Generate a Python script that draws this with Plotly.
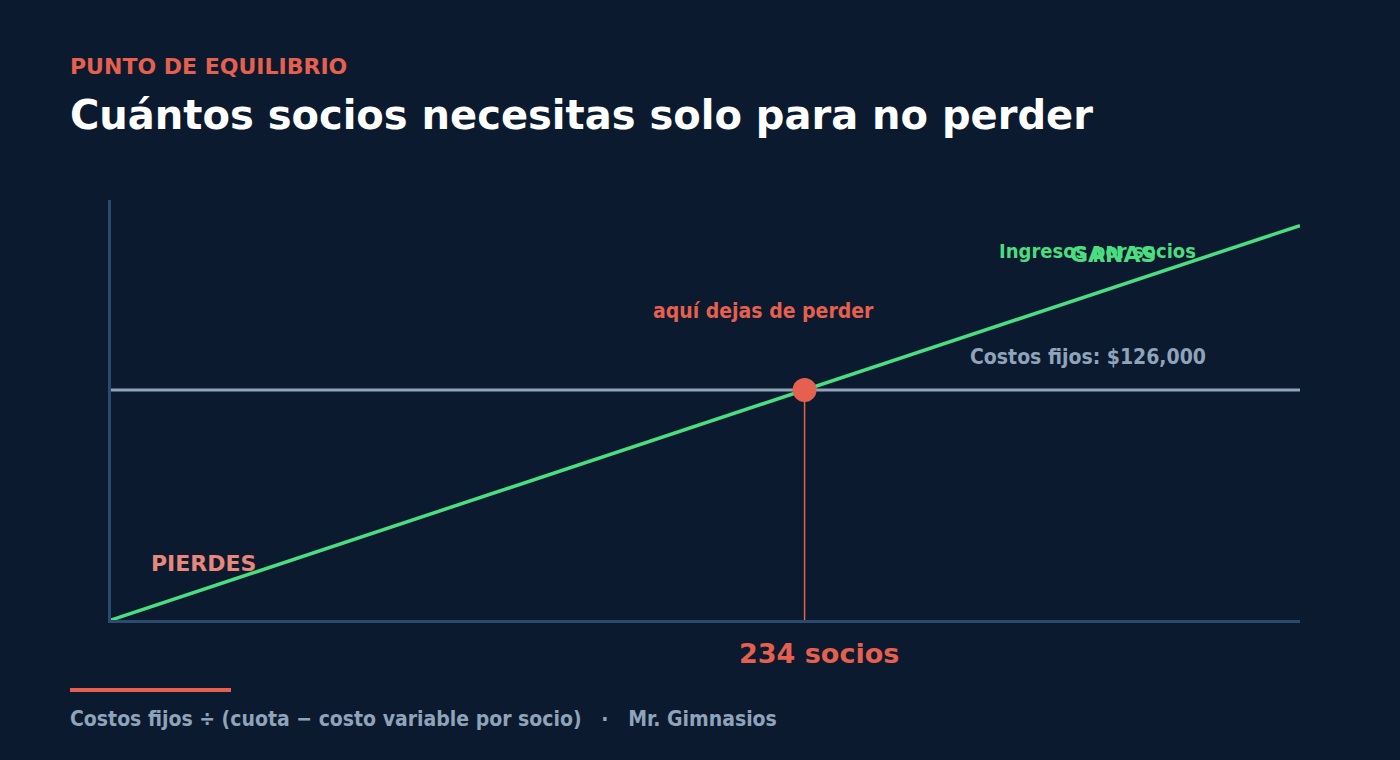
import plotly.graph_objects as go

# --- data ---
socios = [0, 400]
margen_por_socio = 540
ingresos = [s * margen_por_socio for s in socios]
costos_fijos = 126000
punto_equilibrio = costos_fijos / margen_por_socio
etiqueta_punto = "234 socios"

BG = "#0b1a2e"
GREEN = "#4ade80"
RED = "#e5604e"
PINK = "#e8877c"
GRAY = "#8fa3bb"
AXIS = "#2c4a6e"
COND = "DejaVu Sans Condensed"
SANS = "DejaVu Sans"

fig = go.Figure()

fig.add_trace(go.Scatter(x=socios, y=[costos_fijos, costos_fijos], mode="lines",
                         line=dict(color=GRAY, width=3), hoverinfo="skip", showlegend=False))
fig.add_trace(go.Scatter(x=[punto_equilibrio, punto_equilibrio], y=[0, costos_fijos], mode="lines",
                         line=dict(color=RED, width=1.5), hoverinfo="skip", showlegend=False))
fig.add_trace(go.Scatter(x=socios, y=ingresos, mode="lines",
                         line=dict(color=GREEN, width=3.5), hoverinfo="skip", showlegend=False))
fig.add_trace(go.Scatter(x=[punto_equilibrio], y=[costos_fijos], mode="markers",
                         marker=dict(color=RED, size=24), hoverinfo="skip", showlegend=False))

ann = []
ann.append(dict(x=365, y=202000, xshift=2, text="Ingresos por socios", xanchor="right", yanchor="middle",
                font=dict(family=COND, size=20, color=GREEN, weight="bold")))
ann.append(dict(x=337, y=200400, text="GANAS", xanchor="center", yanchor="middle",
                font=dict(family=SANS, size=22, color=GREEN, weight="bold")))
ann.append(dict(x=219.5, y=169200, text="aquí dejas de perder", xanchor="center", yanchor="middle",
                font=dict(family=COND, size=21, color=RED, weight="bold")))
ann.append(dict(x=368.4, y=144000, xshift=2, text="Costos fijos: $126,000", xanchor="right", yanchor="middle",
                font=dict(family=COND, size=21, color=GRAY, weight="bold")))
ann.append(dict(x=13.4, y=30700, xshift=-2, text="PIERDES", xanchor="left", yanchor="middle",
                font=dict(family=SANS, size=22, color=PINK, weight="bold")))
ann.append(dict(x=238.3, y=0, yshift=-33, text=etiqueta_punto, xanchor="center", yanchor="middle",
                font=dict(family=SANS, size=27, color=RED, weight="bold")))
for a in ann:
    a.update(xref="x", yref="y", showarrow=False)

W, H = 1400, 760
L, R, T, B = 111, 100, 200, 140
pw, ph = W - L - R, H - T - B
def px(x):
    return (x - L) / pw
def py(y):
    return (H - B - y) / ph

ann.append(dict(xref="paper", yref="paper", x=px(68), y=py(66), xanchor="left", yanchor="middle",
                text="PUNTO DE EQUILIBRIO", showarrow=False,
                font=dict(family=SANS, size=22, color=RED, weight="bold")))
ann.append(dict(xref="paper", yref="paper", x=px(68), y=py(115), xanchor="left", yanchor="middle",
                text="Cuántos socios necesitas solo para no perder", showarrow=False,
                font=dict(family=SANS, size=40, color="#ffffff", weight="bold")))
ann.append(dict(xref="paper", yref="paper", x=px(68), y=py(719), xanchor="left", yanchor="middle",
                text="Costos fijos ÷ (cuota − costo variable por socio)   ·   Mr. Gimnasios", showarrow=False,
                font=dict(family=COND, size=21, color=GRAY, weight="bold")))

shapes = [dict(type="line", xref="paper", yref="paper", x0=px(70), x1=px(231), y0=py(690), y1=py(690),
               line=dict(color=RED, width=4))]

fig.update_layout(
    width=W, height=H, paper_bgcolor=BG, plot_bgcolor=BG,
    margin=dict(l=L, r=R, t=T, b=B),
    annotations=ann, shapes=shapes, showlegend=False,
    xaxis=dict(range=[0, 400], showgrid=False, zeroline=False, showticklabels=False,
               showline=True, linecolor=AXIS, linewidth=3, ticks=""),
    yaxis=dict(range=[0, 230000], showgrid=False, zeroline=False, showticklabels=False,
               showline=True, linecolor=AXIS, linewidth=3, ticks=""),
)

fig.write_html("out.html", config={"displayModeBar": False},
               post_script="document.body.style.margin='0';document.body.style.background='#0b1a2e';")
